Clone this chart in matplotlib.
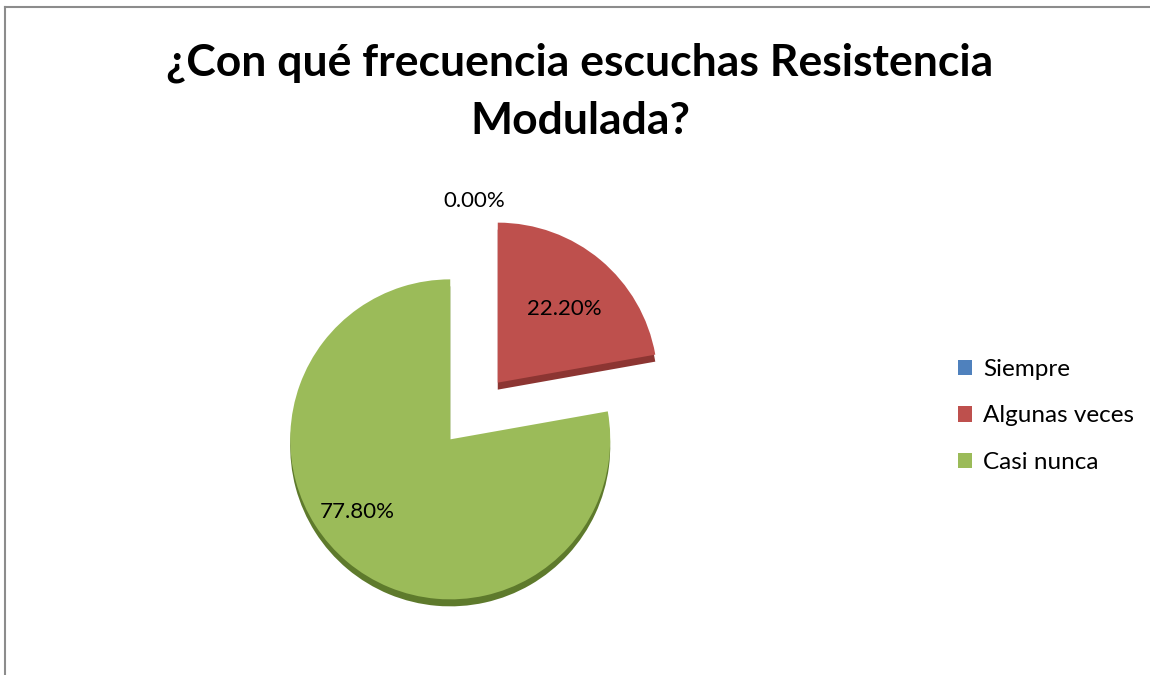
import numpy as np
import matplotlib.pyplot as plt
from matplotlib.lines import Line2D

# data
categorias = ['Siempre', 'Algunas veces', 'Casi nunca']
porcentajes = [0.0, 22.2, 77.8]
etiquetas = ['0.00%', '22.20%', '77.80%']
colores = ['#4F81BD', '#BE504D', '#9BBB59']
colores_lado = ['#3A5F8C', '#8C3532', '#5E7A2C']

titulo = '¿Con qué frecuencia escuchas Resistencia\nModulada?'

fig = plt.figure(figsize=(11.5, 6.75), dpi=100)
ax = fig.add_axes([0, 0, 1, 1])

centro = (474, 264)
radio = 160
sep = 37  # explode distance, in data units (px)
explode = [sep, sep, sep]

# depth of the pie (3d look)
ax.pie(porcentajes, colors=colores_lado, startangle=90, counterclock=False,
       explode=explode, radius=radio, center=(centro[0], centro[1] - 7),
       wedgeprops=dict(linewidth=0), frame=True)
wedges, _ = ax.pie(porcentajes, colors=colores, startangle=90, counterclock=False,
                   explode=explode, radius=radio, center=centro,
                   wedgeprops=dict(linewidth=0), frame=True)
ax.set_xlim(0, 1150)
ax.set_ylim(0, 675)
ax.set_aspect('equal')
ax.axis('off')

# labels
dist = [1.31, 0.62, 0.74]
giro = [0, -2, -12]
for w, lab, d, g in zip(wedges, etiquetas, dist, giro):
    ang = np.deg2rad((w.theta1 + w.theta2) / 2)
    cx, cy = centro
    if w.theta2 - w.theta1 > 0:
        cx = cx + sep * np.cos(ang)
        cy = cy + sep * np.sin(ang)
    a2 = ang + np.deg2rad(g)
    ax.text(cx + d * radio * np.cos(a2), cy + d * radio * np.sin(a2), lab,
            ha='center', va='center', fontsize=16, family='Lato', color='black')

ax.text(580, 583, titulo, ha='center', va='center', fontsize=32,
        fontweight='bold', family='Lato', linespacing=1.55)

ax.legend(wedges, categorias, loc='center left', bbox_to_anchor=(936, 259),
          bbox_transform=ax.transData, frameon=False, handlelength=0.6,
          handleheight=0.6, handletextpad=0.45, labelspacing=1.05,
          prop=dict(family='Lato', size=17.5))

# chart border
fig.add_artist(Line2D([5 / 1150, 1], [1 - 7 / 675, 1 - 7 / 675], color='#8C8C8C', lw=1.5))
fig.add_artist(Line2D([5 / 1150, 5 / 1150], [0, 1 - 7 / 675], color='#8C8C8C', lw=1.5))

fig.savefig('out.png', dpi=100)
